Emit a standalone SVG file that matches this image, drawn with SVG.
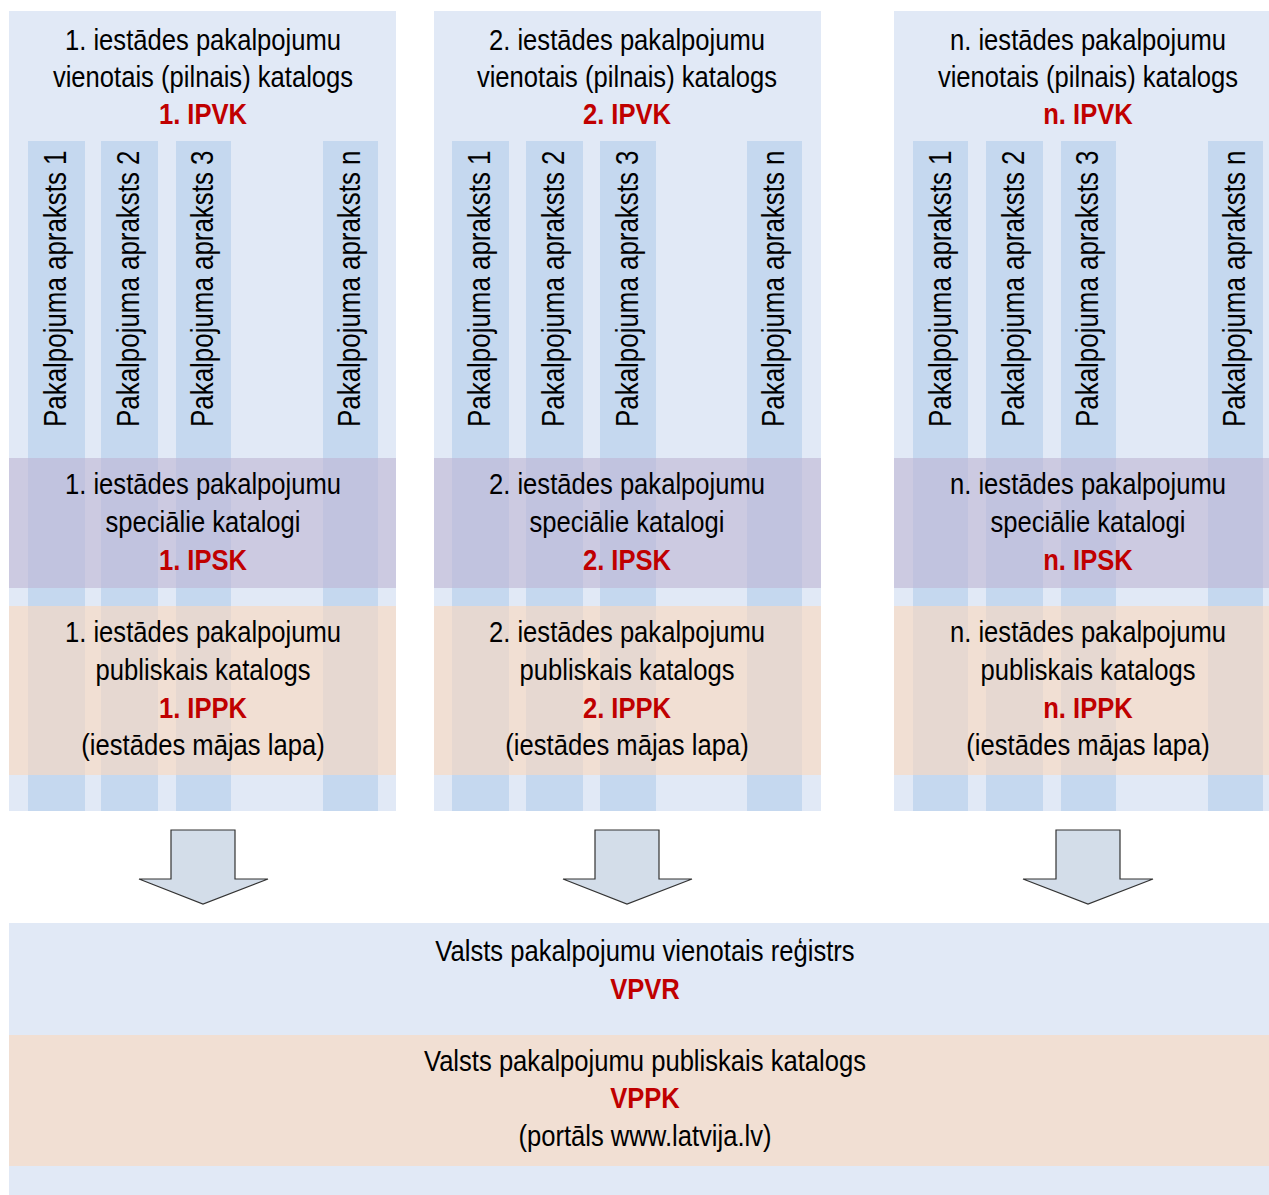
<svg xmlns="http://www.w3.org/2000/svg" width="1269" height="1195" viewBox="0 0 1269 1195">
<style>
.panel{fill:#E1E9F6}
.strip{fill:#C5D8EF}
.purple{fill:#BEB5D3;fill-opacity:0.6}
.peach{fill:#FCD8BC;fill-opacity:0.6}
.t{font-family:"Liberation Sans",Arial,sans-serif;font-size:30px;fill:#000;text-anchor:middle}
.r{font-weight:bold;fill:#C00000}
.v{font-family:"Liberation Sans",Arial,sans-serif;font-size:32px;fill:#000}
.arrow{fill:#D3DDE9;stroke:#333;stroke-width:1.2}
</style>
<rect width="1269" height="1195" fill="#fff"/>
<g id="col1">
<rect class="panel" x="9" y="11" width="387" height="800"/>
<rect class="strip" x="28" y="141" width="57" height="670"/>
<rect class="strip" x="101" y="141" width="57" height="670"/>
<rect class="strip" x="176" y="141" width="55" height="670"/>
<rect class="strip" x="323" y="141" width="55" height="670"/>
<text class="v" transform="translate(66,427) rotate(-90) scale(0.81,1)">Pakalpojuma apraksts 1</text>
<text class="v" transform="translate(139,427) rotate(-90) scale(0.81,1)">Pakalpojuma apraksts 2</text>
<text class="v" transform="translate(213,427) rotate(-90) scale(0.81,1)">Pakalpojuma apraksts 3</text>
<text class="v" transform="translate(360,427) rotate(-90) scale(0.81,1)">Pakalpojuma apraksts n</text>
<rect class="purple" x="9" y="458" width="387" height="130"/>
<rect class="peach" x="9" y="606" width="387" height="169"/>
<g transform="translate(203,0) scale(0.854,1)">
<text class="t" x="0" y="50">1. iestādes pakalpojumu</text>
<text class="t" x="0" y="87">vienotais (pilnais) katalogs</text>
<text class="t r" x="0" y="124">1. IPVK</text>
<text class="t" x="0" y="494">1. iestādes pakalpojumu</text>
<text class="t" x="0" y="532">speciālie katalogi</text>
<text class="t r" x="0" y="570">1. IPSK</text>
<text class="t" x="0" y="642">1. iestādes pakalpojumu</text>
<text class="t" x="0" y="680">publiskais katalogs</text>
<text class="t r" x="0" y="718">1. IPPK</text>
<text class="t" x="0" y="755">(iestādes mājas lapa)</text>
</g>
</g>
<g id="col2">
<rect class="panel" x="434" y="11" width="387" height="800"/>
<rect class="strip" x="452" y="141" width="57" height="670"/>
<rect class="strip" x="526" y="141" width="57" height="670"/>
<rect class="strip" x="600" y="141" width="56" height="670"/>
<rect class="strip" x="747" y="141" width="55" height="670"/>
<text class="v" transform="translate(490,427) rotate(-90) scale(0.81,1)">Pakalpojuma apraksts 1</text>
<text class="v" transform="translate(564,427) rotate(-90) scale(0.81,1)">Pakalpojuma apraksts 2</text>
<text class="v" transform="translate(638,427) rotate(-90) scale(0.81,1)">Pakalpojuma apraksts 3</text>
<text class="v" transform="translate(784,427) rotate(-90) scale(0.81,1)">Pakalpojuma apraksts n</text>
<rect class="purple" x="434" y="458" width="387" height="130"/>
<rect class="peach" x="434" y="606" width="387" height="169"/>
<g transform="translate(627,0) scale(0.854,1)">
<text class="t" x="0" y="50">2. iestādes pakalpojumu</text>
<text class="t" x="0" y="87">vienotais (pilnais) katalogs</text>
<text class="t r" x="0" y="124">2. IPVK</text>
<text class="t" x="0" y="494">2. iestādes pakalpojumu</text>
<text class="t" x="0" y="532">speciālie katalogi</text>
<text class="t r" x="0" y="570">2. IPSK</text>
<text class="t" x="0" y="642">2. iestādes pakalpojumu</text>
<text class="t" x="0" y="680">publiskais katalogs</text>
<text class="t r" x="0" y="718">2. IPPK</text>
<text class="t" x="0" y="755">(iestādes mājas lapa)</text>
</g>
</g>
<g id="col3">
<rect class="panel" x="894" y="11" width="375" height="800"/>
<rect class="strip" x="913" y="141" width="55" height="670"/>
<rect class="strip" x="986" y="141" width="57" height="670"/>
<rect class="strip" x="1061" y="141" width="55" height="670"/>
<rect class="strip" x="1208" y="141" width="55" height="670"/>
<text class="v" transform="translate(951,427) rotate(-90) scale(0.81,1)">Pakalpojuma apraksts 1</text>
<text class="v" transform="translate(1024,427) rotate(-90) scale(0.81,1)">Pakalpojuma apraksts 2</text>
<text class="v" transform="translate(1098,427) rotate(-90) scale(0.81,1)">Pakalpojuma apraksts 3</text>
<text class="v" transform="translate(1245,427) rotate(-90) scale(0.81,1)">Pakalpojuma apraksts n</text>
<rect class="purple" x="894" y="458" width="375" height="130"/>
<rect class="peach" x="894" y="606" width="375" height="169"/>
<g transform="translate(1088,0) scale(0.854,1)">
<text class="t" x="0" y="50">n. iestādes pakalpojumu</text>
<text class="t" x="0" y="87">vienotais (pilnais) katalogs</text>
<text class="t r" x="0" y="124">n. IPVK</text>
<text class="t" x="0" y="494">n. iestādes pakalpojumu</text>
<text class="t" x="0" y="532">speciālie katalogi</text>
<text class="t r" x="0" y="570">n. IPSK</text>
<text class="t" x="0" y="642">n. iestādes pakalpojumu</text>
<text class="t" x="0" y="680">publiskais katalogs</text>
<text class="t r" x="0" y="718">n. IPPK</text>
<text class="t" x="0" y="755">(iestādes mājas lapa)</text>
</g>
</g>
<g id="connectors">
<polygon class="arrow" points="171,830 235,830 235,879 268,879 203,904 139,879 171,879"/>
<polygon class="arrow" points="595,830 659,830 659,879 692,879 627,904 563,879 595,879"/>
<polygon class="arrow" points="1056,830 1120,830 1120,879 1153,879 1088,904 1023,879 1056,879"/>
</g>
<g id="vpvr">
<rect class="panel" x="9" y="923" width="1260" height="272"/>
<g transform="translate(645,0) scale(0.854,1)">
<text class="t" x="0" y="961">Valsts pakalpojumu vienotais reģistrs</text>
<text class="t r" x="0" y="999">VPVR</text>
</g>
</g>
<g id="vppk">
<rect fill="#F1DFD3" x="9" y="1035" width="1260" height="131"/>
<g transform="translate(645,0) scale(0.854,1)">
<text class="t" x="0" y="1071">Valsts pakalpojumu publiskais katalogs</text>
<text class="t r" x="0" y="1108">VPPK</text>
<text class="t" x="0" y="1146">(portāls www.latvija.lv)</text>
</g>
</g>
</svg>
